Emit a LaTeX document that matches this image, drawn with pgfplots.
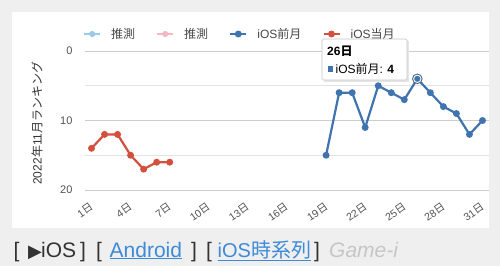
\documentclass[border=0pt]{standalone}
\usepackage{pgfplots}
\pgfplotsset{compat=1.18}
\usepackage{fontspec}
\setmainfont{Liberation Sans}
\newfontfamily\jp{Noto Sans CJK JP}
\newfontfamily\djv{DejaVu Sans}
\definecolor{bg}{HTML}{EFEFEF}
\definecolor{iosb}{HTML}{3F74AE}
\definecolor{iosr}{HTML}{D4503E}
\definecolor{lblue}{HTML}{9CCAE6}
\definecolor{lpink}{HTML}{F2B8C6}
\definecolor{link}{HTML}{3D8AD8}
\definecolor{txt}{HTML}{333333}
\pgfplotstableread{
d r
1 14
2 12
3 12
4 15
5 17
6 16
7 16
}\cur
\pgfplotstableread{
d r
19 15
20 6
21 6
22 11
23 5
24 6
25 7
26 4
27 6
28 8
29 9
30 12
31 10
}\prev
\begin{document}
\begin{tikzpicture}[x=1pt,y=1pt]
\fill[bg] (0,0) rectangle (500,266);
\fill[white] (12,38) rectangle (489,254);
\begin{axis}[
  at={(85pt,76pt)}, anchor=south west,
  scale only axis, width=404pt, height=139pt,
  xmin=0.5, xmax=31.5, ymin=0, ymax=20, y dir=reverse,
  axis line style={draw=none},
  major tick length=0pt, minor tick length=0pt,
  xtick={1,4,...,31},
  xticklabel={\pgfmathparse{int(\tick)}\pgfmathresult{\jp 日}},
  xticklabel style={rotate=35, anchor=north east, inner sep=0.5pt, font=\fontsize{10.5}{12}\selectfont, text=txt!85, yshift=-8pt, xshift=-8pt},
  ytick={10,20}, minor ytick={5,15},
  yticklabel={\pgfmathparse{int(\tick)}\pgfmathresult},
  yticklabel style={font=\fontsize{11}{12}\selectfont, text=txt!85, xshift=-9pt},
  extra y ticks={0}, extra y tick labels={0},
  extra y tick style={grid style={black!75, line width=1.2pt}},
  ymajorgrids, yminorgrids,
  major grid style={gray!40, line width=0.9pt},
  minor grid style={gray!22, line width=0.9pt},
  ylabel={2022{\jp 年}11{\jp 月ランキング}},
  ylabel style={at={(axis description cs:-0.119,0.48)}, anchor=center, font=\fontsize{12}{13}\selectfont, text=txt},
  legend columns=4,
  legend style={at={(0,1)}, anchor=west, yshift=17pt, xshift=-2pt, draw=none, fill=none,
     font=\fontsize{12}{13}\selectfont, text=txt!90, inner sep=0pt,
     /tikz/every odd column/.append style={column sep=8pt},
     /tikz/every even column/.append style={column sep=19pt}},
  legend image code/.code={\draw[mark repeat=2,mark phase=2,#1] plot coordinates {(0pt,0pt) (8pt,0pt) (16pt,0pt)};},
  clip=false,
]
\addlegendimage{color=lblue, line width=2pt, mark=*, mark size=2pt}
\addlegendentry{\jp 推測}
\addlegendimage{color=lpink, line width=2pt, mark=*, mark size=2pt}
\addlegendentry{\jp 推測}
\addplot[color=iosb, line width=2.2pt, mark=*, mark size=2.3pt] table[x=d,y=r]{\prev};
\addlegendentry{iOS{\jp 前月}}
\addplot[color=iosr, line width=2.2pt, mark=*, mark size=2.3pt] table[x=d,y=r]{\cur};
\addlegendentry{iOS{\jp 当月}}
\addplot[forget plot, only marks, mark=*, mark size=4.8pt, mark options={fill=white, draw=iosb!55!black!80, line width=0.9pt}] coordinates {(26,4)};
\addplot[forget plot, only marks, mark=*, mark size=2.8pt, mark options={fill=iosb, draw=iosb}] coordinates {(26,4)};
\end{axis}
% tooltip
\fill[black!10] (323.5,184.5) rectangle (408.5,225.5);
\draw[gray!45, fill=white, rounded corners=1.5pt, line width=0.7pt] (322,186) rectangle (407,227);
\node[anchor=west, inner sep=0pt, font=\fontsize{12}{13}\selectfont\bfseries, text=black] at (327,215) {26{\jp 日}};
\fill[iosb] (327.5,194.5) rectangle (333,200);
\node[anchor=west, inner sep=0pt, font=\fontsize{12}{13}\selectfont, text=black] at (335.5,197.5) {iOS{\jp 前月}: \textbf{4}};
% bottom links
\begin{scope}[every node/.style={anchor=base west, inner sep=0pt, font=\fontsize{21}{22}\selectfont, text=txt}]
\node at (13.5,9) {[};
\node at (28,9) {{\djv\fontsize{18}{20}\selectfont ▶}};
\node at (41,9) {iOS};
\node at (80,9) {]};
\node at (96,9) {[};
\node[text=link] at (109.5,9) {\underline{Android}};
\node at (191,9) {]};
\node at (206,9) {[};
\node[text=link, font=\fontsize{20}{22}\selectfont] at (217.5,9) {\underline{iOS{\jp 時系列}}};
\node at (314,9) {]};
\node[text=gray!45] at (329,9) {\itshape Game-i};
\end{scope}
\end{tikzpicture}
\end{document}
